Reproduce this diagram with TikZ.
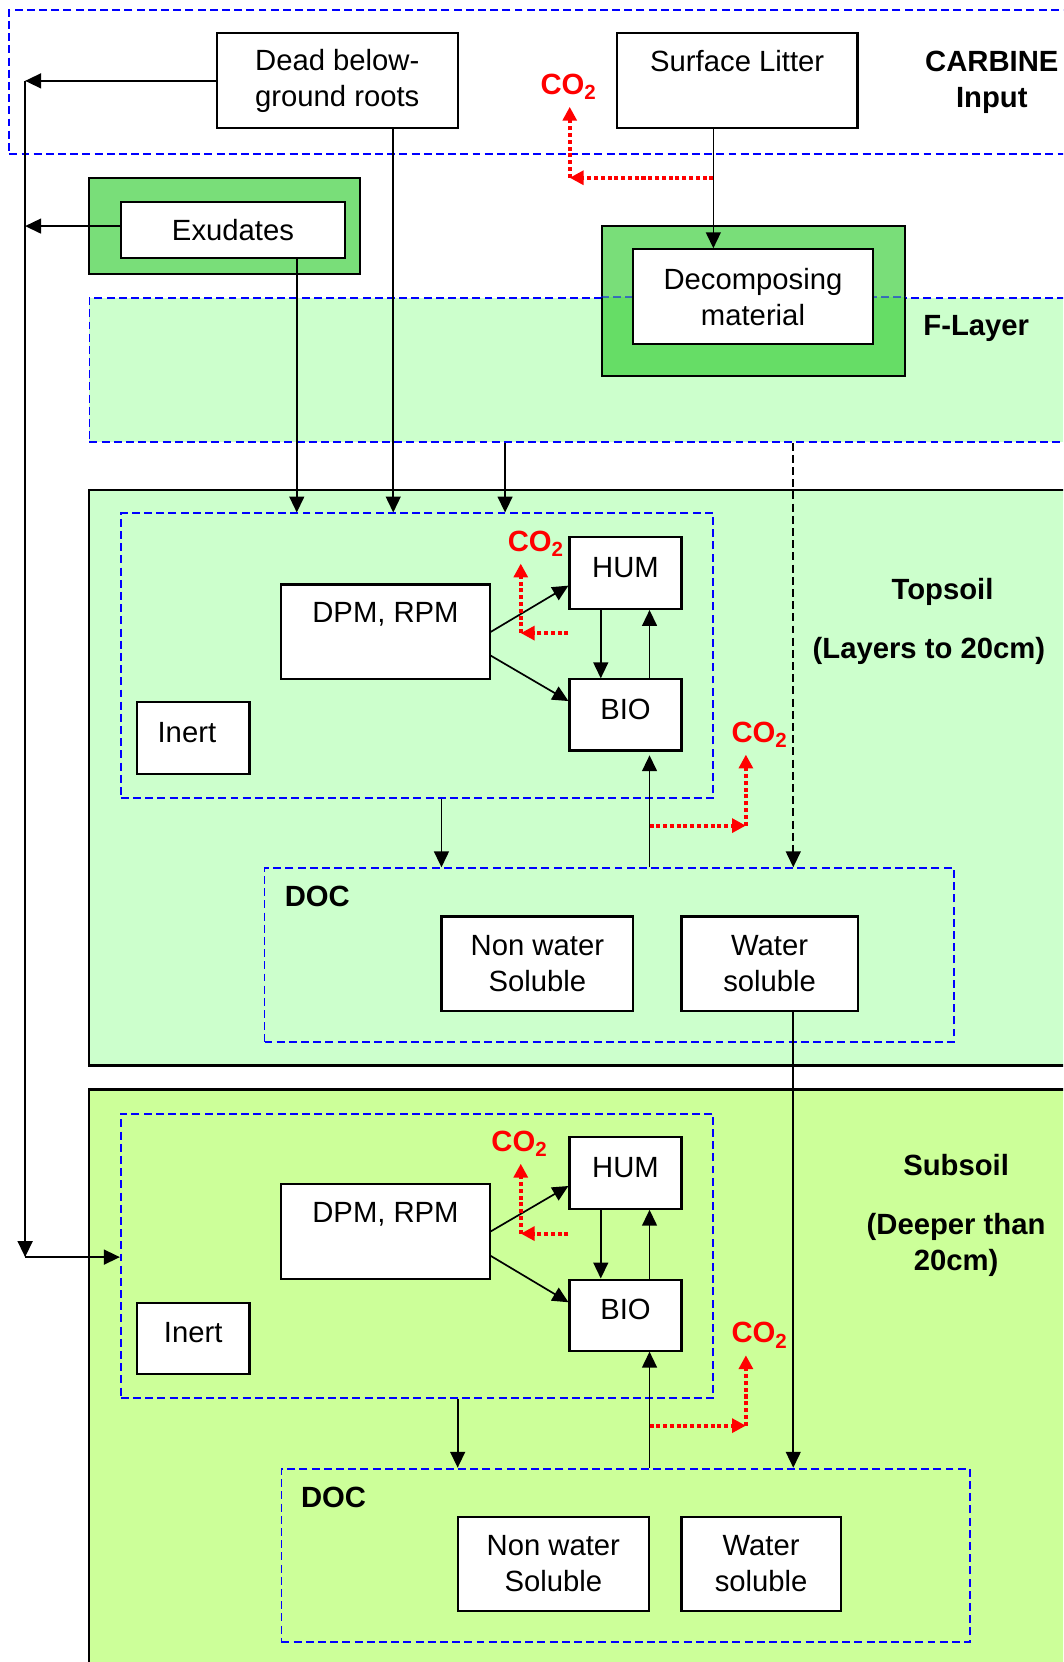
\documentclass[tikz,border=0pt]{standalone}
\usepackage{fontspec}
\setmainfont{Liberation Sans}
\usetikzlibrary{arrows.meta}
\definecolor{grpblue}{HTML}{0000FF}
\definecolor{co2red}{HTML}{FF0000}
\definecolor{topfill}{HTML}{CCFFCC}
\definecolor{subfill}{HTML}{CCFF99}
\definecolor{leafgreen}{HTML}{79DE79}
\definecolor{leafdark}{HTML}{66DD66}
\newcommand{\nfont}{\fontsize{27.6}{34}\selectfont}
\newcommand{\bfont}{\fontsize{27.6}{34}\selectfont\bfseries}
\tikzset{
  box/.style={draw, line width=2pt, fill=white, inner sep=0pt, align=center},
  grnbox/.style={draw, line width=2pt, fill=leafgreen, inner sep=0pt},
  grp/.style={draw=grpblue, line width=1.8pt, dash pattern=on 7.5pt off 4pt, inner sep=0pt},
  layer/.style={draw, line width=2.2pt, inner sep=0pt},
  toptext/.style={text height=20pt, text depth=37pt},
  smalltext/.style={text height=20pt, text depth=12pt},
  flow/.style={-{Triangle[length=15pt, width=14pt]}, line width=1.6pt},
  co2flow/.style={-{Triangle[length=13pt, width=13pt]}, line width=3.8pt, dash pattern=on 3.8pt off 2.6pt, color=co2red},
  co2lbl/.style={text=co2red, font=\bfont, minimum height=37.4pt, inner sep=0pt},
  lbl/.style={font=\bfont, align=center, inner sep=0pt},
  every node/.append style={font=\nfont}
}

\begin{document}
\begin{tikzpicture}[x=1pt, y=-1pt]
\useasboundingbox (0,0) rectangle (1003,1568);
\clip (0,0) rectangle (1003,1568);
\fill[white] (0,0) rectangle (1003,1568);

\node[grp, minimum width=1031pt, minimum height=135.6pt] (input) at (524.3,77.2) {};
\node[lbl] (inputname) at (935.7,77.9) {CARBINE\\Input};
\node[box, minimum width=227pt, minimum height=89.5pt] (roots) at (318.2,76.3) {Dead below-\\ground roots};
\node[box, toptext, minimum width=227pt, minimum height=89.5pt] (litter) at (695.5,76.3) {Surface Litter};
\node[co2lbl] (co2in) at (536.3,81.9) {CO\textsubscript{2}};

\node[grnbox, minimum width=256pt, minimum height=90.5pt] (exoout) at (212,213.2) {};
\node[box, minimum width=211.7pt, minimum height=52.2pt] (exo) at (219.8,216.9) {Exudates};

\node[grp, fill=topfill, minimum width=956pt, minimum height=135.7pt] (flayer) at (562.4,348.9) {};
\node[lbl] (flayername) at (921,309.5) {F-Layer};
\node[grnbox, minimum width=286.3pt, minimum height=141.8pt,
  path picture={\fill[leafdark] (path picture bounding box.south west) rectangle (flayer.north -| path picture bounding box.east);}] (decout) at (710.9,284) {};
\draw[grp, opacity=0.5] (decout.west |- flayer.north) -- (decout.east |- flayer.north);
\node[box, minimum width=227.2pt, minimum height=89.4pt] (dec) at (710.4,279.9) {Decomposing\\material};

\node[layer, fill=topfill, minimum width=956.2pt, minimum height=543pt] (topsoil) at (561.9,733.8) {};
\node[lbl] (topname) at (889.2,558.8) {Topsoil};
\node[lbl] (topdepth) at (876.4,613.7) {(Layers to 20cm)};
\node[grp, minimum width=559pt, minimum height=268.4pt] (tmix) at (393.5,618.6) {};
\node[box, toptext, minimum width=196.4pt, minimum height=89.5pt] (tdpm) at (363.7,596.2) {DPM, RPM};
\node[box, smalltext, minimum width=105.6pt, minimum height=67.8pt] (thum) at (590.1,540.6) {HUM};
\node[box, smalltext, minimum width=105.6pt, minimum height=67.1pt] (tbio) at (590.1,674.5) {BIO};
\node[box, smalltext, minimum width=106.2pt, minimum height=67.8pt] (tinert) at (182.3,696.5) {Inert\hspace{12pt}};
\node[co2lbl] (co2th) at (505.4,512.8) {CO\textsubscript{2}};
\node[co2lbl] (co2tb) at (716.5,693) {CO\textsubscript{2}};
\node[grp, minimum width=650.5pt, minimum height=163.7pt] (tdoc) at (574.8,901) {};
\node[lbl] (tdocname) at (299.4,846) {DOC};
\node[box, minimum width=181pt, minimum height=88.8pt] (tnws) at (507,909.1) {Non water\\Soluble};
\node[box, minimum width=166.2pt, minimum height=88.8pt] (tws) at (726.1,909.1) {Water\\soluble};

\node[layer, fill=subfill, minimum width=956.2pt, minimum height=572pt] (subsoil) at (561.9,1314) {};
\node[lbl] (subname) at (902,1146.8) {Subsoil\\[22pt](Deeper than\\20cm)};
\node[grp, minimum width=559pt, minimum height=268pt] (smix) at (393.5,1184.6) {};
\node[box, toptext, minimum width=196.4pt, minimum height=89.5pt] (sdpm) at (363.7,1161.8) {DPM, RPM};
\node[box, smalltext, minimum width=105.6pt, minimum height=67.3pt] (shum) at (590.1,1106.7) {HUM};
\node[box, smalltext, minimum width=105.6pt, minimum height=67pt] (sbio) at (590.1,1240.7) {BIO};
\node[box, smalltext, minimum width=106.2pt, minimum height=67.3pt] (sinert) at (182.3,1263) {Inert};
\node[co2lbl] (co2sh) at (490,1079) {CO\textsubscript{2}};
\node[co2lbl] (co2sb) at (716.5,1259.7) {CO\textsubscript{2}};
\node[grp, minimum width=649.3pt, minimum height=163.4pt] (sdoc) at (590.2,1467.3) {};
\node[lbl] (sdocname) at (314.7,1413) {DOC};
\node[box, minimum width=180.4pt, minimum height=89.1pt] (snws) at (522,1475.4) {Non water\\Soluble};
\node[box, minimum width=150.2pt, minimum height=89.1pt] (sws) at (718.1,1475.4) {Water\\soluble};

\coordinate (trunktop) at (23.7,76.3);
\coordinate (trunkbot) at (23.7,1186);
\draw[flow] (roots.west) -- (trunktop);
\draw[flow] (exo.west |- 0,213.3) -- (trunktop |- 0,213.3);
\draw[flow] (trunktop) -- (trunkbot);
\draw[flow] (trunkbot) -- (trunkbot -| smix.west);

\draw[flow] (280,0 |- exo.south) -- (280,0 |- tmix.north);
\draw[flow] (371,0 |- roots.south) -- (371,0 |- tmix.north);
\draw[flow] (476.5,0 |- flayer.south) -- (476.5,0 |- tmix.north);
\draw[flow, dash pattern=on 7.5pt off 4pt] (748.4,0 |- flayer.south) -- (748.4,0 |- tdoc.north);
\draw[flow] (673,0 |- litter.south) -- (673,0 |- dec.north);
\coordinate (lbend) at (537.5,167.7);
\draw[co2flow] (673,0 |- lbend) -- (lbend);
\draw[co2flow] (lbend) -- (lbend |- co2in.south);

\draw[flow] (tdpm.east) -- (thum.west |- 0,552.5);
\draw[flow] (tdpm.east |- 0,618.5) -- (tbio.west |- 0,661.4);
\draw[flow] (566.8,0 |- thum.south) -- (566.8,0 |- tbio.north);
\draw[flow] (612.8,0 |- tbio.north) -- (612.8,0 |- thum.south);
\coordinate (tbend) at (491.3,597.3);
\draw[co2flow] (thum.west |- tbend) -- (tbend);
\draw[co2flow] (tbend) -- (tbend |- co2th.south);
\draw[flow] (416.5,0 |- tmix.south) -- (416.5,0 |- tdoc.north);
\draw[flow, shorten >=3.5pt] (612.8,0 |- tdoc.north) -- (612.8,0 |- tbio.south);
\coordinate (tbend2) at (703.7,778.9);
\draw[co2flow] (612.8,0 |- tbend2) -- (tbend2);
\draw[co2flow] (tbend2) -- (tbend2 |- co2tb.south);
\draw[flow] (748.4,0 |- tws.south) -- (748.4,0 |- sdoc.north);

\draw[flow] (sdpm.east) -- (shum.west |- 0,1118.9);
\draw[flow] (sdpm.east |- 0,1184.8) -- (sbio.west |- 0,1228.6);
\draw[flow] (566.8,0 |- shum.south) -- (566.8,0 |- sbio.north);
\draw[flow] (612.8,0 |- sbio.north) -- (612.8,0 |- shum.south);
\coordinate (sbend) at (491.3,1163.8);
\draw[co2flow] (shum.west |- sbend) -- (sbend);
\draw[co2flow] (sbend) -- (sbend |- co2sh.south);
\draw[flow] (431.8,0 |- smix.south) -- (431.8,0 |- sdoc.north);
\draw[flow] (612.8,0 |- sdoc.north) -- (612.8,0 |- sbio.south);
\coordinate (sbend2) at (703.7,1345);
\draw[co2flow] (612.8,0 |- sbend2) -- (sbend2);
\draw[co2flow] (sbend2) -- (sbend2 |- co2sb.south);
\end{tikzpicture}
\end{document}
